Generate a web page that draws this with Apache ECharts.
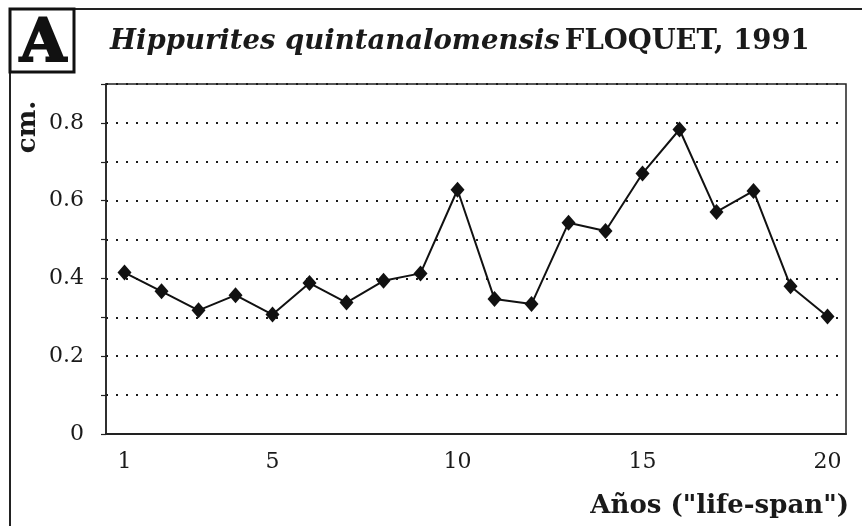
<!DOCTYPE html>
<html>
<head>
<meta charset="utf-8">
<title>Hippurites quintanalomensis</title>
<script src="https://cdn.jsdelivr.net/npm/echarts@6/dist/echarts.min.js"></script>
<style>
  html, body { margin: 0; padding: 0; background: #fff; }
  #main { width: 862px; height: 526px; }
</style>
</head>
<body>
<div id="main"></div>
<script>
// years of growth (life-span) and increment in cm
var years = ['1', '2', '3', '4', '5', '6', '7', '8', '9', '10',
             '11', '12', '13', '14', '15', '16', '17', '18', '19', '20'];
var lengthsCm = [0.415, 0.367, 0.318, 0.357, 0.307, 0.388, 0.338, 0.394, 0.413, 0.628,
                 0.347, 0.334, 0.543, 0.522, 0.670, 0.783, 0.571, 0.625, 0.380, 0.302];
var shownYearLabels = ['1', '5', '10', '15', '20'];
var yTickLabels = ['0', '0.2', '0.4', '0.6', '0.8'];

var serif = 'DejaVu Serif';
var ink = '#1a1a1a';

function drawChart() {
    var chartDom = document.getElementById('main');
    var myChart = echarts.init(chartDom);
    var option;

    option = {
        backgroundColor: '#fff',
        animation: false,
        title: {
            left: 105,
            top: 23,
            text: '{i|Hippurites quintanalomensis} {n|FLOQUET, 1991}',
            textStyle: {
                rich: {
                    i: { fontFamily: serif, fontSize: 27.5, fontWeight: 'bold', fontStyle: 'italic', color: ink },
                    n: { fontFamily: serif, fontSize: 27.5, fontWeight: 'bold', color: ink }
                }
            }
        },
        grid: {
            left: 106,
            right: 16,
            top: 84,
            bottom: 92,
            show: true,
            borderColor: '#222',
            borderWidth: 1.5
        },
        xAxis: {
            type: 'category',
            data: years,
            boundaryGap: true,
            axisLine: { lineStyle: { color: '#222', width: 2 } },
            axisTick: { interval: 0, length: 5, lineStyle: { color: '#222', width: 1.2 } },
            axisLabel: {
                interval: 0,
                margin: 17,
                fontFamily: serif,
                fontSize: 22,
                color: ink,
                formatter: function (v) {
                    return shownYearLabels.indexOf(v) >= 0 ? v : '';
                }
            },
            splitLine: { show: false }
        },
        yAxis: {
            type: 'value',
            min: 0,
            max: 0.9,
            interval: 0.1,
            axisLine: { show: true, lineStyle: { color: '#222', width: 1.5 } },
            axisTick: { show: true, length: 5, lineStyle: { color: '#222', width: 1.2 } },
            axisLabel: {
                margin: 22,
                fontFamily: serif,
                fontSize: 22,
                color: ink,
                formatter: function (v) {
                    var s = String(+v.toFixed(1));
                    return yTickLabels.indexOf(s) >= 0 ? s : '';
                }
            },
            splitLine: {
                show: true,
                lineStyle: { color: '#1a1a1a', width: 2, type: [2, 8] }
            }
        },
        series: [{
            type: 'line',
            data: lengthsCm,
            symbol: 'diamond',
            symbolSize: [14, 16],
            itemStyle: { color: '#111' },
            lineStyle: { color: '#111', width: 2 },
            z: 5
        }],
        graphic: {
            elements: [
                {
                    // outer frame of the figure
                    type: 'rect',
                    shape: { x: 10, y: 9, width: 900, height: 600 },
                    style: { fill: 'none', stroke: '#222', lineWidth: 2 }
                },
                {
                    type: 'rect',
                    shape: { x: 10, y: 9, width: 64, height: 63 },
                    style: { fill: '#fff', stroke: '#111', lineWidth: 3 }
                },
                {
                    type: 'text',
                    x: 43,
                    y: 45,
                    style: {
                        text: 'A',
                        fontFamily: serif,
                        fontSize: 60,
                        fontWeight: 'bold',
                        fill: '#111',
                        stroke: '#111',
                        lineWidth: 2,
                        align: 'center',
                        verticalAlign: 'middle'
                    }
                },
                {
                    type: 'text',
                    x: 28,
                    y: 127,
                    rotation: Math.PI / 2,
                    style: {
                        text: 'cm.',
                        fontFamily: serif,
                        fontSize: 26,
                        fontWeight: 'bold',
                        fill: ink,
                        align: 'center',
                        verticalAlign: 'middle'
                    }
                },
                {
                    type: 'text',
                    right: 13,
                    top: 493,
                    style: {
                        text: 'Años ("life-span")',
                        fontFamily: serif,
                        fontSize: 26,
                        fontWeight: 'bold',
                        fill: ink
                    }
                }
            ]
        }
    };

    option && myChart.setOption(option);
}

document.addEventListener('DOMContentLoaded', function () {
    drawChart();
});
</script>
</body>
</html>
